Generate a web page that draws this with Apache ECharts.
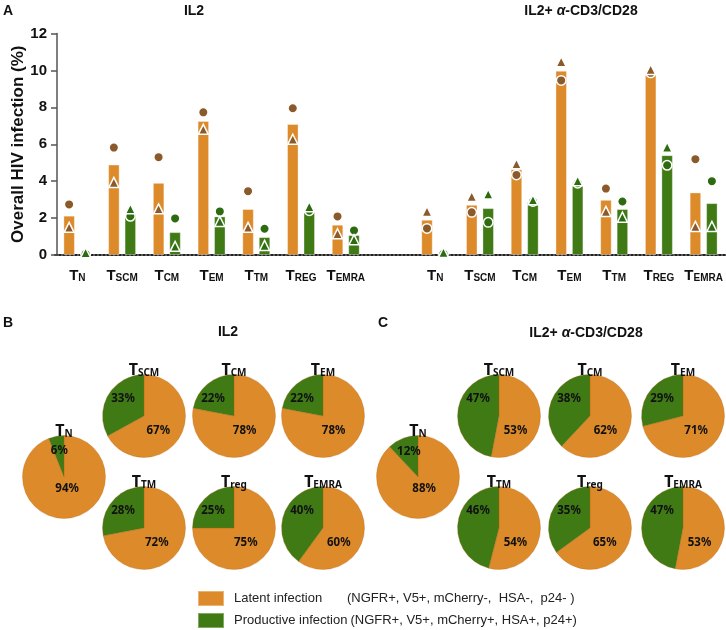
<!DOCTYPE html>
<html>
<head>
<meta charset="utf-8">
<script src="https://cdn.jsdelivr.net/npm/echarts@6/dist/echarts.min.js"></script>
<style>
html,body{margin:0;padding:0;background:#fff;}
#chart{width:726px;height:630px;}
</style>
</head>
<body>
<div id="chart"></div>
<script>
// ---------- DATA ----------
const subsets = ['N', 'SCM', 'CM', 'EM', 'TM', 'REG', 'EMRA'];
const pieSubsets = ['N', 'SCM', 'CM', 'EM', 'TM', 'reg', 'EMRA'];
const yTicks = [0, 2, 4, 6, 8, 10, 12];

// Panel A, IL2 (mean bars + two donors)
const il2LatentMean = [2.13, 4.90, 3.91, 7.26, 2.49, 7.10, 1.64];
const il2LatentDonorCircle = [2.74, 5.82, 5.30, 7.73, 3.46, 7.95, 2.09];
const il2LatentDonorTriangle = [1.50, 3.93, 2.50, 6.81, 1.50, 6.27, 1.15];
const il2ProductiveMean = [0.08, 2.30, 1.24, 2.09, 0.97, 2.50, 1.08];
const il2ProductiveDonorCircle = [0.06, 2.10, 1.98, 2.36, 1.42, 2.40, 1.33];
const il2ProductiveDonorTriangle = [0.12, 2.50, 0.47, 1.82, 0.52, 2.62, 0.83];

// Panel A, IL2 + a-CD3/CD28
const cd3LatentMean = [1.91, 2.72, 4.65, 9.98, 2.99, 9.98, 3.39];
const cd3LatentDonorCircle = [1.44, 2.31, 4.34, 9.46, 3.60, 9.87, 5.19];
const cd3LatentDonorTriangle = [2.36, 3.17, 4.94, 10.47, 2.36, 10.05, 1.55];
const cd3ProductiveMean = [0.10, 2.54, 2.90, 3.95, 2.49, 5.41, 2.81];
const cd3ProductiveDonorCircle = [0.08, 1.77, 2.90, 3.89, 2.90, 4.86, 4.00];
const cd3ProductiveDonorTriangle = [0.14, 3.30, 2.99, 4.02, 2.05, 5.84, 1.55];

// Panels B and C (% of infected cells)
const il2PieLatent = [94, 67, 78, 78, 72, 75, 60];
const il2PieProductive = [6, 33, 22, 22, 28, 25, 40];
const cd3PieLatent = [88, 53, 62, 71, 54, 65, 53];
const cd3PieProductive = [12, 47, 38, 29, 46, 35, 47];

const legendLatent = 'Latent infection';
const legendProductive = 'Productive infection';
const latentMarkers = '(NGFR+, V5+, mCherry-,  HSA-,  p24- )';
const productiveMarkers = '(NGFR+, V5+, mCherry+, HSA+, p24+)';

// ---------- STYLE ----------
const ORANGE = '#DD8A2A';
const GREEN = '#3F7A14';
const BROWN = '#8B5A2B';
const DKGREEN = '#2D6A10';
const FONT = 'Liberation Sans, Arial, sans-serif';
const PFONT = 'Noto Sans, Open Sans, sans-serif';

// category axis: 7 + gap + 7
const xCats = subsets.map(s => 'a|' + s).concat(['gap']).concat(subsets.map(s => 'b|' + s));
const join = (a, b) => a.concat([null]).concat(b);

const BW = 11.5, OFF = 8.25;

function markerSeries(name, data, symbol, color, dx, size) {
  return {
    type: 'scatter', name: name, data: data, symbol: symbol, symbolSize: size,
    symbolOffset: [dx, 0], z: 5,
    itemStyle: { color: color, borderColor: '#fff', borderWidth: 1.5, opacity: 1 },
    emphasis: { disabled: true }
  };
}

const series = [
  { type: 'bar', name: legendLatent, data: join(il2LatentMean, cd3LatentMean),
    barWidth: BW, barGap: '43%', itemStyle: { color: ORANGE, borderColor: 'rgba(255,255,255,0.35)', borderWidth: 1 } },
  { type: 'bar', name: legendProductive, data: join(il2ProductiveMean, cd3ProductiveMean),
    barWidth: BW, barGap: '43%', itemStyle: { color: GREEN, borderColor: 'rgba(255,255,255,0.35)', borderWidth: 1 } },
  markerSeries('d1L', join(il2LatentDonorCircle, cd3LatentDonorCircle), 'circle', BROWN, -OFF, 9.5),
  markerSeries('d2L', join(il2LatentDonorTriangle, cd3LatentDonorTriangle), 'triangle', BROWN, -OFF, 10),
  markerSeries('d1P', join(il2ProductiveDonorCircle, cd3ProductiveDonorCircle), 'circle', DKGREEN, OFF, 9.5),
  markerSeries('d2P', join(il2ProductiveDonorTriangle, cd3ProductiveDonorTriangle), 'triangle', DKGREEN, OFF, 10)
];

// pies
const R = 41.5;
const pieLayoutB = [[64, 477], [144, 416], [234, 416], [323, 416], [144, 528], [234, 528], [323, 528]];
const pieLayoutC = [[418, 477], [499, 416], [590, 416], [683, 416], [499, 528], [590, 528], [683, 528]];
const pieInfoBySeries = {};

// place percentage labels like the figure: productive upper-left, latent below centre
function pieLabelLayout(params) {
  const info = pieInfoBySeries[params.seriesIndex];
  if (!info) return {};
  const c = info.center;
  const rad = Math.PI / 180;
  if (params.dataIndex === 0) {
    const phi = info.latent / 100 * 180 * rad;          // mid angle of latent slice (clockwise from top)
    return { x: c[0] + R * 0.4 * Math.sin(phi), y: c[1] + (phi > 150 * rad ? 12 : 15) };
  }
  const th = info.productive / 100 * 180 * rad;          // mid angle of productive slice (anticlockwise)
  if (th < 30 * rad) {
    return { x: c[0] - R * 0.6 * Math.sin(th), y: c[1] - R * 0.65 * Math.cos(th) };
  }
  return { x: c[0] - 21, y: c[1] - 17 };
}

function pieSeries(center, latent, productive) {
  pieInfoBySeries[series.length] = { center: center, latent: latent, productive: productive };
  return {
    type: 'pie', center: center, radius: R, startAngle: 90, clockwise: true,
    silent: true, animation: false,
    data: [{ name: legendLatent, value: latent }, { name: legendProductive, value: productive }],
    itemStyle: { color: p => p.dataIndex === 0 ? ORANGE : GREEN, borderColor: 'rgba(180,100,20,0.5)', borderWidth: 0.6 },
    label: { show: true, position: 'inside', formatter: '{c}%', color: '#111',
      fontFamily: PFONT, fontWeight: 'bold', fontSize: 11.5, align: 'center', verticalAlign: 'middle' },
    labelLine: { show: false },
    labelLayout: pieLabelLayout
  };
}
pieSubsets.forEach((s, i) => {
  series.push(pieSeries(pieLayoutB[i], il2PieLatent[i], il2PieProductive[i]));
  series.push(pieSeries(pieLayoutC[i], cd3PieLatent[i], cd3PieProductive[i]));
});

// free text
const graphics = [];
function txt(x, y, text, size, extra) {
  graphics.push({ type: 'text', x: x, y: y, silent: true,
    style: Object.assign({ text: text, font: 'bold ' + size + 'px ' + FONT, fill: '#111',
      align: 'center', verticalAlign: 'middle' }, extra || {}) });
}
const condRich = { n: { font: 'bold 14px ' + FONT, fill: '#111' }, g: { font: 'italic bold 14px ' + FONT, fill: '#111' } };
txt(3, 11, 'A', 14, { align: 'left' });
txt(194, 11, 'IL2', 14);
txt(581, 11, '{n|IL2+ }{g|\u03b1}{n|-CD3/CD28}', 14, { rich: condRich });
txt(3, 323, 'B', 14, { align: 'left' });
txt(228, 332, 'IL2', 14);
txt(378, 323, 'C', 14, { align: 'left' });
txt(586, 333, '{n|IL2+ }{g|\u03b1}{n|-CD3/CD28}', 14, { rich: condRich });

const pieTitleRich = {
  t: { font: 'bold 16px ' + PFONT, fill: '#111', lineHeight: 20, verticalAlign: 'bottom' },
  s: { font: 'bold 10px ' + PFONT, fill: '#111', lineHeight: 13, verticalAlign: 'bottom' }
};
pieSubsets.forEach((s, i) => {
  [pieLayoutB[i], pieLayoutC[i]].forEach(c => {
    graphics.push({ type: 'text', x: c[0], y: c[1] - R + 4, silent: true, z: 10,
      style: { text: '{t|T}{s|' + s + '}', rich: pieTitleRich, align: 'center', verticalAlign: 'bottom' } });
  });
});

const legendText = { fontFamily: FONT, fontSize: 13, color: '#222' };
function legendBlock(name, top, fmt) {
  return {
    data: [name], orient: 'vertical', left: 197, top: top, padding: 0,
    itemWidth: 26, itemHeight: 15, icon: 'rect', selectedMode: false,
    formatter: fmt,
    textStyle: {
      rich: {
        a: Object.assign({ width: 113, padding: [0, 0, 0, 5] }, legendText),
        c: Object.assign({ padding: [0, 3, 0, 5] }, legendText),
        b: Object.assign({}, legendText)
      }
    }
  };
}

const option = {
  animation: false,
  grid: { left: 55, right: 0, top: 33.5, bottom: 375, containLabel: false, outerBoundsMode: 'none' },
  xAxis: {
    type: 'category', data: xCats,
    axisLine: { show: true, lineStyle: { color: '#222', type: 'dotted', width: 2 } },
    axisTick: { show: false },
    axisLabel: {
      interval: 0, margin: 8,
      formatter: v => v === 'gap' ? '' : '{t|T}{s|' + v.split('|')[1] + '}',
      rich: {
        t: { fontFamily: FONT, fontWeight: 'bold', fontSize: 15, color: '#111', lineHeight: 20, verticalAlign: 'bottom' },
        s: { fontFamily: FONT, fontWeight: 'bold', fontSize: 10, color: '#111', lineHeight: 12, verticalAlign: 'bottom' }
      }
    }
  },
  yAxis: {
    type: 'value', min: yTicks[0], max: yTicks[yTicks.length - 1], interval: 2, offset: -2,
    name: 'Overall HIV infection (%)', nameLocation: 'middle', nameGap: 30, nameMoveOverlap: false,
    nameTextStyle: { fontFamily: FONT, fontWeight: 'bold', fontSize: 17, color: '#111' },
    axisLine: { show: true, lineStyle: { color: '#555', width: 1.5 } },
    axisTick: { show: true, length: 6, lineStyle: { color: '#555', width: 1.5 } },
    axisLabel: { fontFamily: FONT, fontWeight: 'bold', fontSize: 15, color: '#111', margin: 10 },
    splitLine: { show: false }
  },
  legend: [
    legendBlock(legendLatent, 590, n => '{a|' + n + '}{b|' + latentMarkers + '}'),
    legendBlock(legendProductive, 612, n => '{c|' + n + '}{b|' + productiveMarkers + '}')
  ],
  graphic: graphics,
  series: series
};

const chart = echarts.init(document.getElementById('chart'), null, { renderer: 'canvas' });
chart.setOption(option);
</script>
</body>
</html>
